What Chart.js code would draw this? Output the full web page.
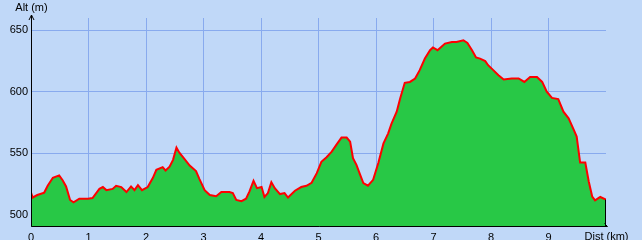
<!DOCTYPE html>
<html>
<head>
<meta charset="utf-8">
<script src="https://cdn.jsdelivr.net/npm/chart.js@4/dist/chart.umd.min.js"></script>
<style>
html, body { margin: 0; padding: 0; background: #c0d8f8; }
canvas { display: block; }
</style>
</head>
<body>
<canvas id="profil" width="642" height="240"></canvas>
<script>
// profil altimetrique : distance (km) / altitude (m)
const distKm = [0, 0.03, 0.11, 0.23, 0.29, 0.38, 0.49, 0.55, 0.61, 0.68, 0.74, 0.84, 0.99, 1.07, 1.19, 1.25,
  1.31, 1.42, 1.48, 1.57, 1.66, 1.74, 1.80, 1.86, 1.93, 2.03, 2.12, 2.18, 2.29, 2.34, 2.41, 2.47, 2.53,
  2.58, 2.64, 2.76, 2.87, 2.93, 3.02, 3.11, 3.22, 3.31, 3.45, 3.51, 3.57, 3.66, 3.74, 3.80, 3.87, 3.93,
  4.01, 4.06, 4.12, 4.18, 4.24, 4.33, 4.41, 4.47, 4.59, 4.70, 4.79, 4.88, 4.97, 5.05, 5.14, 5.23, 5.31,
  5.40, 5.49, 5.55, 5.60, 5.66, 5.72, 5.78, 5.86, 5.95, 6.04, 6.13, 6.21, 6.27, 6.36, 6.42, 6.50, 6.59,
  6.68, 6.76, 6.85, 6.94, 6.99, 7.07, 7.20, 7.32, 7.40, 7.52, 7.59, 7.67, 7.74, 7.81, 7.90, 7.95, 8.04,
  8.13, 8.22, 8.36, 8.48, 8.58, 8.68, 8.80, 8.89, 8.97, 9.06, 9.17, 9.26, 9.35, 9.44, 9.49, 9.55, 9.64,
  9.70, 9.76, 9.81, 9.90, 10.0];
const altM = [518, 514, 516, 518, 523.5, 530, 532, 528, 523, 512, 510, 513, 513, 513.5, 521, 522.5,
  520, 521, 523.5, 522.5, 518.4, 523, 520, 524, 520, 522.5, 530, 536.5, 538.7, 536, 539, 544.6, 554.6,
  550.5, 547, 540, 535.5, 529, 520, 516, 515, 518.4, 518.4, 517.6, 512, 511, 513, 519, 527.6, 521.6,
  522.5, 514.4, 517.6, 526.5, 521.6, 516.8, 517.6, 514, 519.5, 522.5, 523.5, 526, 533.8, 543, 546.8, 551.3, 556.8,
  562.7, 562.7, 559.4, 546, 540.5, 533, 525.7, 523.6, 528.4, 542, 558, 566, 574, 583.8, 594.6, 607.3, 608,
  610.8, 617.6, 627, 633.8, 636, 633.8, 639.2, 640.5, 640.5, 641.9, 639.7, 633.8, 627.9, 627, 624.9, 621.6, 617.6,
  613.5, 610, 610.8, 610.8, 608, 612, 612, 608, 600, 595, 594, 583.8, 578.4, 569, 563.5, 542.4, 542.4,
  527, 514.8, 511.6, 514.4, 512.2];
const xTicks = [0, 1, 2, 3, 4, 5, 6, 7, 8, 9];
const yTicks = [500, 550, 600, 650];

const police = "11px 'Liberation Sans', Arial, sans-serif";

// fond, axes noirs avec fleches et titres des axes
const decor = {
  id: "decor",
  beforeDraw(chart) {
    const c = chart.ctx;
    c.save();
    c.fillStyle = "#c0d8f8";
    c.fillRect(0, 0, chart.width, chart.height);
    c.restore();
  },
  afterDraw(chart) {
    const c = chart.ctx;
    const a = chart.chartArea;
    const sx = chart.scales.x, sy = chart.scales.y;
    const ax = Math.floor(sx.getPixelForValue(0)) + 0.5;
    const ay = Math.floor(a.bottom) - 0.5;
    const xEnd = Math.floor(sx.getPixelForValue(distKm[distKm.length - 1])) - 0.5;
    const yLast = sy.getPixelForValue(altM[altM.length - 1]);
    c.save();
    c.strokeStyle = "#000";
    c.lineWidth = 1;
    c.beginPath();
    // axe vertical + fleche
    c.moveTo(ax, ay); c.lineTo(ax, a.top - 3);
    c.moveTo(ax - 2.5, a.top + 2); c.lineTo(ax, a.top - 3); c.lineTo(ax + 2.5, a.top + 2);
    // axe horizontal
    c.moveTo(ax, ay); c.lineTo(xEnd + 2, ay);
    c.moveTo(xEnd - 1, ay - 3); c.lineTo(xEnd + 2, ay);
    // fin du profil
    c.moveTo(xEnd, yLast); c.lineTo(xEnd, ay);
    c.stroke();
    c.fillStyle = "#000";
    c.font = police;
    c.textAlign = "center";
    c.textBaseline = "middle";
    c.fillText("Alt (m)", ax, 8);
    c.textBaseline = "top";
    c.fillText("Dist (km)", xEnd + 1, a.bottom + 4);
    c.restore();
  }
};

new Chart(document.getElementById("profil"), {
  type: "line",
  data: {
    datasets: [{
      data: distKm.map((d, i) => ({ x: d, y: altM[i] })),
      borderColor: "#ff0000",
      borderWidth: 2,
      backgroundColor: "#28c846",
      fill: "start",
      pointRadius: 0,
      tension: 0
    }]
  },
  options: {
    responsive: false,
    animation: false,
    devicePixelRatio: 1,
    layout: { padding: { top: 18, right: 36, left: 0, bottom: 0 } },
    plugins: { legend: { display: false }, tooltip: { enabled: false } },
    scales: {
      x: {
        type: "linear",
        min: 0,
        max: 10,
        afterBuildTicks: s => { s.ticks = xTicks.map(v => ({ value: v })); },
        afterFit: s => { s.height = 13; },
        grid: { color: "#88aaee", lineWidth: 1, drawTicks: false },
        border: { display: false },
        ticks: { color: "#000", font: { family: "'Liberation Sans', Arial, sans-serif", size: 11 }, padding: 4, maxRotation: 0 }
      },
      y: {
        min: 490,
        max: 660,
        afterBuildTicks: s => { s.ticks = yTicks.map(v => ({ value: v })); },
        afterFit: s => { s.width = 31; },
        grid: { color: "#88aaee", lineWidth: 1, drawTicks: false },
        border: { display: false },
        ticks: { color: "#000", font: { family: "'Liberation Sans', Arial, sans-serif", size: 11 }, padding: 3 }
      }
    }
  },
  plugins: [decor]
});
</script>
</body>
</html>
